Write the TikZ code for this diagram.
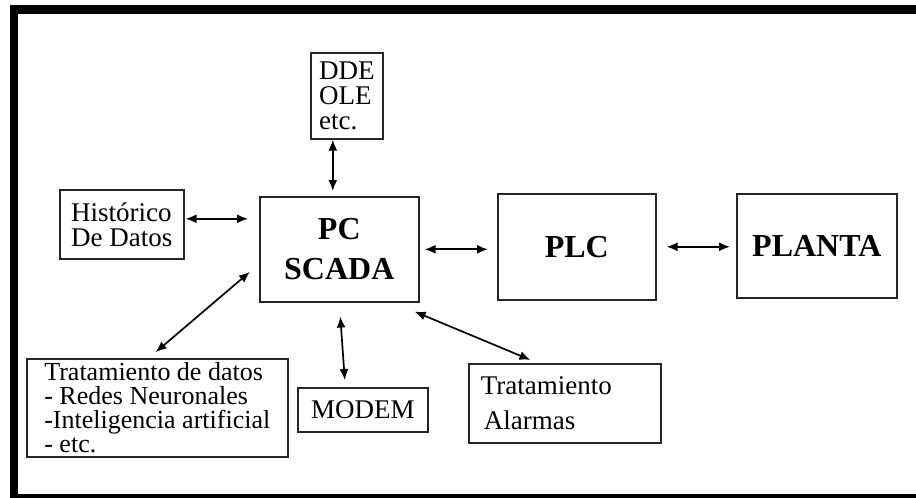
\documentclass[tikz,border=0pt]{standalone}
\usepackage{fontspec}
\setmainfont{Liberation Serif}
\usetikzlibrary{arrows.meta}
\tikzset{
  box/.style={draw=black!85,line width=1.6pt,inner sep=0pt,anchor=north west,align=left,font=\fontsize{27}{25}\selectfont},
  bigbox/.style={box,align=center,font=\fontsize{32}{40}\selectfont\bfseries},
  link/.style={{Latex[length=11pt,width=9pt]}-{Latex[length=11pt,width=9pt]},line width=1.7pt},
  frame/.style={line width=8.5pt},
}

\begin{document}
\begin{tikzpicture}[x=1pt,y=-1pt]
    \useasboundingbox (0,0) rectangle (916,498);
    \draw[frame] (940,9.5) -- (14,9.5) -- (14,498) -- (940,498);
    % boxes
    \node[box,minimum width=72pt,minimum height=86pt] (dde) at (310,52) {DDE\\OLE\\etc.};
    \node[box,minimum width=124pt,minimum height=69pt] (hist) at (59,189) {Histórico\\De Datos};
    \node[bigbox,minimum width=159pt,minimum height=105pt] (pc) at (259,196) {PC\\SCADA};
    \node[bigbox,minimum width=158pt,minimum height=106pt] (plc) at (497,193) {PLC};
    \node[bigbox,minimum width=160pt,minimum height=104pt] (planta) at (736,193) {PLANTA};
    \node[box,minimum width=261pt,minimum height=98pt,font=\fontsize{26}{24}\selectfont] (trat) at (26,358) {Tratamiento de datos\\- Redes Neuronales\\-Inteligencia artificial\\- etc.};
    \node[box,minimum width=130pt,minimum height=44pt,align=center] (modem) at (297,387) {MODEM};
    \node[box,text width=168pt,inner xsep=12pt,minimum height=79pt] (alarm) at (468,363) {Tratamiento\\[10pt]\hspace*{3pt}Alarmas};
    % links
    \draw[link,shorten >=5pt] ([xshift=-14pt]dde.south) -- ([xshift=-6.5pt]pc.north);
    \draw[link,shorten <=1pt,shorten >=11pt] ([yshift=5.5pt]hist.east) -- ([yshift=30.5pt]pc.west);
    \draw[link,shorten <=5pt,shorten >=9pt] (pc.east) -- (pc.east -| plc.west);
    \draw[link,shorten <=10pt,shorten >=6pt] (plc.east) -- (plc.east -| planta.west);
    \draw[link,shorten <=9pt,shorten >=12pt] ([xshift=-8.5pt]trat.north) -- ([yshift=-14.8pt]pc.west);
    \draw[link,shorten <=14pt,shorten >=7pt] (pc.south) -- ([xshift=-17.5pt]modem.north);
    \draw[link,shorten >=8pt] ([xshift=-5pt,yshift=-9pt]pc.south east) -- ([xshift=-27pt]alarm.north);
\end{tikzpicture}
\end{document}
